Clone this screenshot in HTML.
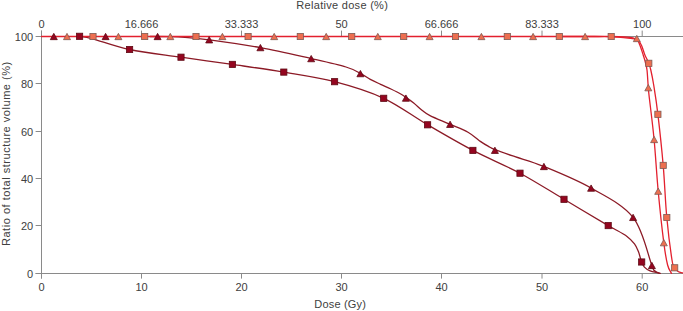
<!DOCTYPE html>
<html><head><meta charset="utf-8"><style>
html,body{margin:0;padding:0;background:#fff;width:683px;height:311px;overflow:hidden}
svg{display:block}
</style></head><body>
<svg width="683" height="311" viewBox="0 0 683 311">
<g stroke="#8a8a8a" stroke-width="1" fill="none">
<line x1="41.5" y1="30.6" x2="41.5" y2="278.4"/>
<line x1="35.6" y1="273.5" x2="683" y2="273.5"/>
<line x1="41.5" y1="36.5" x2="683" y2="36.5"/>
<line x1="41.50" y1="273.5" x2="41.50" y2="278.6"/>
<line x1="41.50" y1="30.6" x2="41.50" y2="36.5"/>
<line x1="141.50" y1="273.5" x2="141.50" y2="278.6"/>
<line x1="141.50" y1="30.6" x2="141.50" y2="36.5"/>
<line x1="241.50" y1="273.5" x2="241.50" y2="278.6"/>
<line x1="241.50" y1="30.6" x2="241.50" y2="36.5"/>
<line x1="341.50" y1="273.5" x2="341.50" y2="278.6"/>
<line x1="341.50" y1="30.6" x2="341.50" y2="36.5"/>
<line x1="441.50" y1="273.5" x2="441.50" y2="278.6"/>
<line x1="441.50" y1="30.6" x2="441.50" y2="36.5"/>
<line x1="542.00" y1="273.5" x2="542.00" y2="278.6"/>
<line x1="542.00" y1="30.6" x2="542.00" y2="36.5"/>
<line x1="642.20" y1="273.5" x2="642.20" y2="278.6"/>
<line x1="642.20" y1="30.6" x2="642.20" y2="36.5"/>
<line x1="35.6" y1="273.50" x2="41.5" y2="273.50"/>
<line x1="35.6" y1="225.50" x2="41.5" y2="225.50"/>
<line x1="35.6" y1="178.50" x2="41.5" y2="178.50"/>
<line x1="35.6" y1="131.50" x2="41.5" y2="131.50"/>
<line x1="35.6" y1="83.50" x2="41.5" y2="83.50"/>
<line x1="35.6" y1="36.50" x2="41.5" y2="36.50"/>
</g>
<g font-family="Liberation Sans, sans-serif" font-size="11" fill="#404040">
<text x="33.2" y="277.80" text-anchor="end">0</text>
<text x="33.2" y="229.80" text-anchor="end">20</text>
<text x="33.2" y="182.80" text-anchor="end">40</text>
<text x="33.2" y="135.80" text-anchor="end">60</text>
<text x="33.2" y="87.80" text-anchor="end">80</text>
<text x="33.2" y="40.80" text-anchor="end">100</text>
<text x="41.50" y="291" text-anchor="middle">0</text>
<text x="41.50" y="28.2" text-anchor="middle">0</text>
<text x="141.50" y="291" text-anchor="middle">10</text>
<text x="141.50" y="28.2" text-anchor="middle">16.666</text>
<text x="241.50" y="291" text-anchor="middle">20</text>
<text x="241.50" y="28.2" text-anchor="middle">33.333</text>
<text x="341.50" y="291" text-anchor="middle">30</text>
<text x="341.50" y="28.2" text-anchor="middle">50</text>
<text x="441.50" y="291" text-anchor="middle">40</text>
<text x="441.50" y="28.2" text-anchor="middle">66.666</text>
<text x="542.00" y="291" text-anchor="middle">50</text>
<text x="542.00" y="28.2" text-anchor="middle">83.333</text>
<text x="642.20" y="291" text-anchor="middle">60</text>
<text x="642.20" y="28.2" text-anchor="middle">100</text>
<text x="342.1" y="9.4" text-anchor="middle" textLength="91.5" lengthAdjust="spacing">Relative dose (%)</text>
<text x="340.1" y="307.5" text-anchor="middle" textLength="51.6" lengthAdjust="spacing">Dose (Gy)</text>
<text transform="translate(9.9 153.9) rotate(-90)" text-anchor="middle" textLength="184.3" lengthAdjust="spacing">Ratio of total structure volume (%)</text>
</g>
<g fill="none" stroke-width="1.3" stroke-linejoin="round" stroke-linecap="round">
<path d="M79.60 36.50 C81.77 36.88 84.27 36.63 92.60 38.80 C100.93 40.97 114.87 46.43 129.60 49.50 C144.33 52.57 163.87 54.72 181.00 57.20 C198.13 59.68 215.27 61.92 232.40 64.40 C249.53 66.88 266.77 69.22 283.80 72.10 C300.83 74.98 317.95 77.33 334.60 81.70 C351.25 86.07 368.20 91.12 383.70 98.30 C399.20 105.48 412.73 116.12 427.60 124.80 C442.47 133.48 457.50 142.33 472.90 150.40 C488.30 158.47 504.82 165.05 520.00 173.20 C535.18 181.35 549.30 190.57 564.00 199.30 C578.70 208.03 599.87 220.68 608.20 225.60 C616.53 230.52 610.87 227.00 614.00 228.80 C617.13 230.60 623.58 233.88 627.00 236.40 C630.42 238.92 632.60 241.37 634.50 243.90 C636.40 246.43 637.40 249.17 638.40 251.60 C639.40 254.03 639.95 256.77 640.50 258.50 C641.05 260.23 641.05 260.57 641.70 262.00 C642.35 263.43 643.00 265.62 644.40 267.10 C645.80 268.58 647.85 269.95 650.10 270.90 C652.35 271.85 656.25 272.40 657.90 272.80 C659.55 273.20 659.65 273.22 660.00 273.30" stroke="#8c1a26"/>
<path d="M150.00 36.50 C153.33 36.52 164.17 36.47 170.00 36.60 C175.83 36.73 178.47 36.77 185.00 37.30 C191.53 37.83 196.63 38.08 209.20 39.80 C221.77 41.52 243.40 44.47 260.40 47.60 C277.40 50.73 296.93 55.37 311.20 58.60 C325.47 61.83 337.80 64.53 346.00 67.00 C354.20 69.47 356.35 71.33 360.40 73.40 C364.45 75.47 366.93 77.58 370.30 79.40 C373.67 81.22 377.17 82.70 380.60 84.30 C384.03 85.90 387.47 87.35 390.90 89.00 C394.33 90.65 398.70 92.80 401.20 94.20 C403.70 95.60 403.82 95.93 405.90 97.40 C407.98 98.87 411.02 100.87 413.70 103.00 C416.38 105.13 419.28 108.10 422.00 110.20 C424.72 112.30 425.32 113.25 430.00 115.60 C434.68 117.95 443.77 121.53 450.10 124.30 C456.43 127.07 462.90 129.32 468.00 132.20 C473.10 135.08 477.28 139.23 480.70 141.60 C484.12 143.97 486.13 145.07 488.50 146.40 C490.87 147.73 490.48 147.88 494.90 149.60 C499.32 151.32 506.83 153.88 515.00 156.70 C523.17 159.52 531.22 161.27 543.90 166.50 C556.58 171.73 576.23 179.62 591.10 188.10 C605.97 196.58 622.97 204.50 633.10 217.40 C643.23 230.30 648.25 256.57 651.90 265.50 C655.55 274.43 653.65 269.68 655.00 271.00 C656.35 272.32 659.17 273.00 660.00 273.40" stroke="#8c1a26"/>
<path d="M41.50 36.50 C84.58 36.50 213.58 36.50 300.00 36.50 C386.42 36.50 511.67 36.50 560.00 36.50 C608.33 36.50 581.47 36.50 590.00 36.50 C598.53 36.50 605.53 36.43 611.20 36.50 C616.87 36.57 620.37 36.67 624.00 36.90 C627.63 37.13 630.58 37.30 633.00 37.90 C635.42 38.50 637.12 39.32 638.50 40.50 C639.88 41.68 640.52 43.42 641.30 45.00 C642.08 46.58 642.60 48.33 643.20 50.00 C643.80 51.67 643.97 52.78 644.90 55.00 C645.83 57.22 647.82 60.80 648.80 63.30 C649.78 65.80 649.98 66.38 650.80 70.00 C651.62 73.62 652.52 77.62 653.70 85.00 C654.88 92.38 656.32 100.90 657.90 114.30 C659.48 127.70 661.72 148.20 663.20 165.40 C664.68 182.60 665.33 201.73 666.80 217.50 C668.27 233.27 670.68 251.62 672.00 260.00 C673.32 268.38 673.70 265.88 674.70 267.80 C675.70 269.72 676.62 270.63 678.00 271.50 C679.38 272.37 682.17 272.75 683.00 273.00" stroke="#e3202e"/>
<path d="M560.00 36.50 C565.00 36.50 582.50 36.48 590.00 36.50 C597.50 36.52 600.33 36.50 605.00 36.60 C609.67 36.70 614.17 36.87 618.00 37.10 C621.83 37.33 624.87 37.58 628.00 38.00 C631.13 38.42 634.87 38.52 636.80 39.60 C638.73 40.68 638.80 42.77 639.60 44.50 C640.40 46.23 641.00 48.25 641.60 50.00 C642.20 51.75 642.58 53.00 643.20 55.00 C643.82 57.00 644.67 59.50 645.30 62.00 C645.93 64.50 646.53 66.17 647.00 70.00 C647.47 73.83 647.77 80.83 648.10 85.00 C648.43 89.17 648.00 85.92 649.00 95.00 C650.00 104.08 652.57 123.47 654.10 139.50 C655.63 155.53 656.58 174.00 658.20 191.20 C659.82 208.40 662.23 230.40 663.80 242.70 C665.37 255.00 666.32 259.88 667.60 265.00 C668.88 270.12 670.85 272.00 671.50 273.40" stroke="#e3202e"/>
</g>
<rect x="76.50" y="33.20" width="6.2" height="6.2" fill="#94051f" stroke="#5e0a14" stroke-width="0.8"/>
<rect x="126.50" y="46.40" width="6.2" height="6.2" fill="#94051f" stroke="#5e0a14" stroke-width="0.8"/>
<rect x="177.90" y="54.10" width="6.2" height="6.2" fill="#94051f" stroke="#5e0a14" stroke-width="0.8"/>
<rect x="229.30" y="61.30" width="6.2" height="6.2" fill="#94051f" stroke="#5e0a14" stroke-width="0.8"/>
<rect x="280.70" y="69.00" width="6.2" height="6.2" fill="#94051f" stroke="#5e0a14" stroke-width="0.8"/>
<rect x="331.50" y="78.60" width="6.2" height="6.2" fill="#94051f" stroke="#5e0a14" stroke-width="0.8"/>
<rect x="380.60" y="95.20" width="6.2" height="6.2" fill="#94051f" stroke="#5e0a14" stroke-width="0.8"/>
<rect x="424.50" y="121.70" width="6.2" height="6.2" fill="#94051f" stroke="#5e0a14" stroke-width="0.8"/>
<rect x="469.80" y="147.30" width="6.2" height="6.2" fill="#94051f" stroke="#5e0a14" stroke-width="0.8"/>
<rect x="516.90" y="170.10" width="6.2" height="6.2" fill="#94051f" stroke="#5e0a14" stroke-width="0.8"/>
<rect x="560.90" y="196.20" width="6.2" height="6.2" fill="#94051f" stroke="#5e0a14" stroke-width="0.8"/>
<rect x="605.10" y="222.50" width="6.2" height="6.2" fill="#94051f" stroke="#5e0a14" stroke-width="0.8"/>
<rect x="638.60" y="258.90" width="6.2" height="6.2" fill="#94051f" stroke="#5e0a14" stroke-width="0.8"/>
<path d="M53.80 33.35L57.30 39.65L50.30 39.65Z" fill="#94051f" stroke="#5e0a14" stroke-width="0.8" stroke-linejoin="miter"/>
<path d="M105.60 33.35L109.10 39.65L102.10 39.65Z" fill="#94051f" stroke="#5e0a14" stroke-width="0.8" stroke-linejoin="miter"/>
<path d="M157.60 33.35L161.10 39.65L154.10 39.65Z" fill="#94051f" stroke="#5e0a14" stroke-width="0.8" stroke-linejoin="miter"/>
<path d="M209.20 36.65L212.70 42.95L205.70 42.95Z" fill="#94051f" stroke="#5e0a14" stroke-width="0.8" stroke-linejoin="miter"/>
<path d="M260.40 44.45L263.90 50.75L256.90 50.75Z" fill="#94051f" stroke="#5e0a14" stroke-width="0.8" stroke-linejoin="miter"/>
<path d="M311.20 55.45L314.70 61.75L307.70 61.75Z" fill="#94051f" stroke="#5e0a14" stroke-width="0.8" stroke-linejoin="miter"/>
<path d="M360.40 70.45L363.90 76.75L356.90 76.75Z" fill="#94051f" stroke="#5e0a14" stroke-width="0.8" stroke-linejoin="miter"/>
<path d="M405.90 94.95L409.40 101.25L402.40 101.25Z" fill="#94051f" stroke="#5e0a14" stroke-width="0.8" stroke-linejoin="miter"/>
<path d="M450.10 121.15L453.60 127.45L446.60 127.45Z" fill="#94051f" stroke="#5e0a14" stroke-width="0.8" stroke-linejoin="miter"/>
<path d="M494.90 147.15L498.40 153.45L491.40 153.45Z" fill="#94051f" stroke="#5e0a14" stroke-width="0.8" stroke-linejoin="miter"/>
<path d="M543.90 163.35L547.40 169.65L540.40 169.65Z" fill="#94051f" stroke="#5e0a14" stroke-width="0.8" stroke-linejoin="miter"/>
<path d="M591.10 184.95L594.60 191.25L587.60 191.25Z" fill="#94051f" stroke="#5e0a14" stroke-width="0.8" stroke-linejoin="miter"/>
<path d="M633.10 214.25L636.60 220.55L629.60 220.55Z" fill="#94051f" stroke="#5e0a14" stroke-width="0.8" stroke-linejoin="miter"/>
<path d="M651.90 262.35L655.40 268.65L648.40 268.65Z" fill="#94051f" stroke="#5e0a14" stroke-width="0.8" stroke-linejoin="miter"/>
<rect x="89.90" y="33.40" width="6.2" height="6.2" fill="#ed6f50" stroke="#7d5a54" stroke-width="0.8"/>
<rect x="141.60" y="33.40" width="6.2" height="6.2" fill="#ed6f50" stroke="#7d5a54" stroke-width="0.8"/>
<rect x="192.90" y="33.40" width="6.2" height="6.2" fill="#ed6f50" stroke="#7d5a54" stroke-width="0.8"/>
<rect x="245.00" y="33.40" width="6.2" height="6.2" fill="#ed6f50" stroke="#7d5a54" stroke-width="0.8"/>
<rect x="297.20" y="33.40" width="6.2" height="6.2" fill="#ed6f50" stroke="#7d5a54" stroke-width="0.8"/>
<rect x="348.60" y="33.40" width="6.2" height="6.2" fill="#ed6f50" stroke="#7d5a54" stroke-width="0.8"/>
<rect x="400.60" y="33.40" width="6.2" height="6.2" fill="#ed6f50" stroke="#7d5a54" stroke-width="0.8"/>
<rect x="452.40" y="33.40" width="6.2" height="6.2" fill="#ed6f50" stroke="#7d5a54" stroke-width="0.8"/>
<rect x="504.20" y="33.40" width="6.2" height="6.2" fill="#ed6f50" stroke="#7d5a54" stroke-width="0.8"/>
<rect x="556.20" y="33.40" width="6.2" height="6.2" fill="#ed6f50" stroke="#7d5a54" stroke-width="0.8"/>
<rect x="608.10" y="33.40" width="6.2" height="6.2" fill="#ed6f50" stroke="#7d5a54" stroke-width="0.8"/>
<rect x="645.70" y="60.20" width="6.2" height="6.2" fill="#ed6f50" stroke="#7d5a54" stroke-width="0.8"/>
<rect x="654.80" y="111.20" width="6.2" height="6.2" fill="#ed6f50" stroke="#7d5a54" stroke-width="0.8"/>
<rect x="660.10" y="162.30" width="6.2" height="6.2" fill="#ed6f50" stroke="#7d5a54" stroke-width="0.8"/>
<rect x="663.70" y="214.40" width="6.2" height="6.2" fill="#ed6f50" stroke="#7d5a54" stroke-width="0.8"/>
<rect x="671.60" y="264.70" width="6.2" height="6.2" fill="#ed6f50" stroke="#7d5a54" stroke-width="0.8"/>
<path d="M67.00 33.35L70.50 39.65L63.50 39.65Z" fill="#ed6f50" stroke="#7d5a54" stroke-width="0.8" stroke-linejoin="miter"/>
<path d="M118.40 33.35L121.90 39.65L114.90 39.65Z" fill="#ed6f50" stroke="#7d5a54" stroke-width="0.8" stroke-linejoin="miter"/>
<path d="M170.30 33.35L173.80 39.65L166.80 39.65Z" fill="#ed6f50" stroke="#7d5a54" stroke-width="0.8" stroke-linejoin="miter"/>
<path d="M222.40 33.35L225.90 39.65L218.90 39.65Z" fill="#ed6f50" stroke="#7d5a54" stroke-width="0.8" stroke-linejoin="miter"/>
<path d="M274.20 33.35L277.70 39.65L270.70 39.65Z" fill="#ed6f50" stroke="#7d5a54" stroke-width="0.8" stroke-linejoin="miter"/>
<path d="M326.20 33.35L329.70 39.65L322.70 39.65Z" fill="#ed6f50" stroke="#7d5a54" stroke-width="0.8" stroke-linejoin="miter"/>
<path d="M377.80 33.35L381.30 39.65L374.30 39.65Z" fill="#ed6f50" stroke="#7d5a54" stroke-width="0.8" stroke-linejoin="miter"/>
<path d="M429.60 33.35L433.10 39.65L426.10 39.65Z" fill="#ed6f50" stroke="#7d5a54" stroke-width="0.8" stroke-linejoin="miter"/>
<path d="M481.40 33.35L484.90 39.65L477.90 39.65Z" fill="#ed6f50" stroke="#7d5a54" stroke-width="0.8" stroke-linejoin="miter"/>
<path d="M533.10 33.35L536.60 39.65L529.60 39.65Z" fill="#ed6f50" stroke="#7d5a54" stroke-width="0.8" stroke-linejoin="miter"/>
<path d="M585.10 33.35L588.60 39.65L581.60 39.65Z" fill="#ed6f50" stroke="#7d5a54" stroke-width="0.8" stroke-linejoin="miter"/>
<path d="M636.80 35.35L640.30 41.65L633.30 41.65Z" fill="#ed6f50" stroke="#7d5a54" stroke-width="0.8" stroke-linejoin="miter"/>
<path d="M648.30 84.55L651.80 90.85L644.80 90.85Z" fill="#ed6f50" stroke="#7d5a54" stroke-width="0.8" stroke-linejoin="miter"/>
<path d="M654.10 136.35L657.60 142.65L650.60 142.65Z" fill="#ed6f50" stroke="#7d5a54" stroke-width="0.8" stroke-linejoin="miter"/>
<path d="M658.20 188.05L661.70 194.35L654.70 194.35Z" fill="#ed6f50" stroke="#7d5a54" stroke-width="0.8" stroke-linejoin="miter"/>
<path d="M663.80 239.55L667.30 245.85L660.30 245.85Z" fill="#ed6f50" stroke="#7d5a54" stroke-width="0.8" stroke-linejoin="miter"/>
</svg>
</body></html>
